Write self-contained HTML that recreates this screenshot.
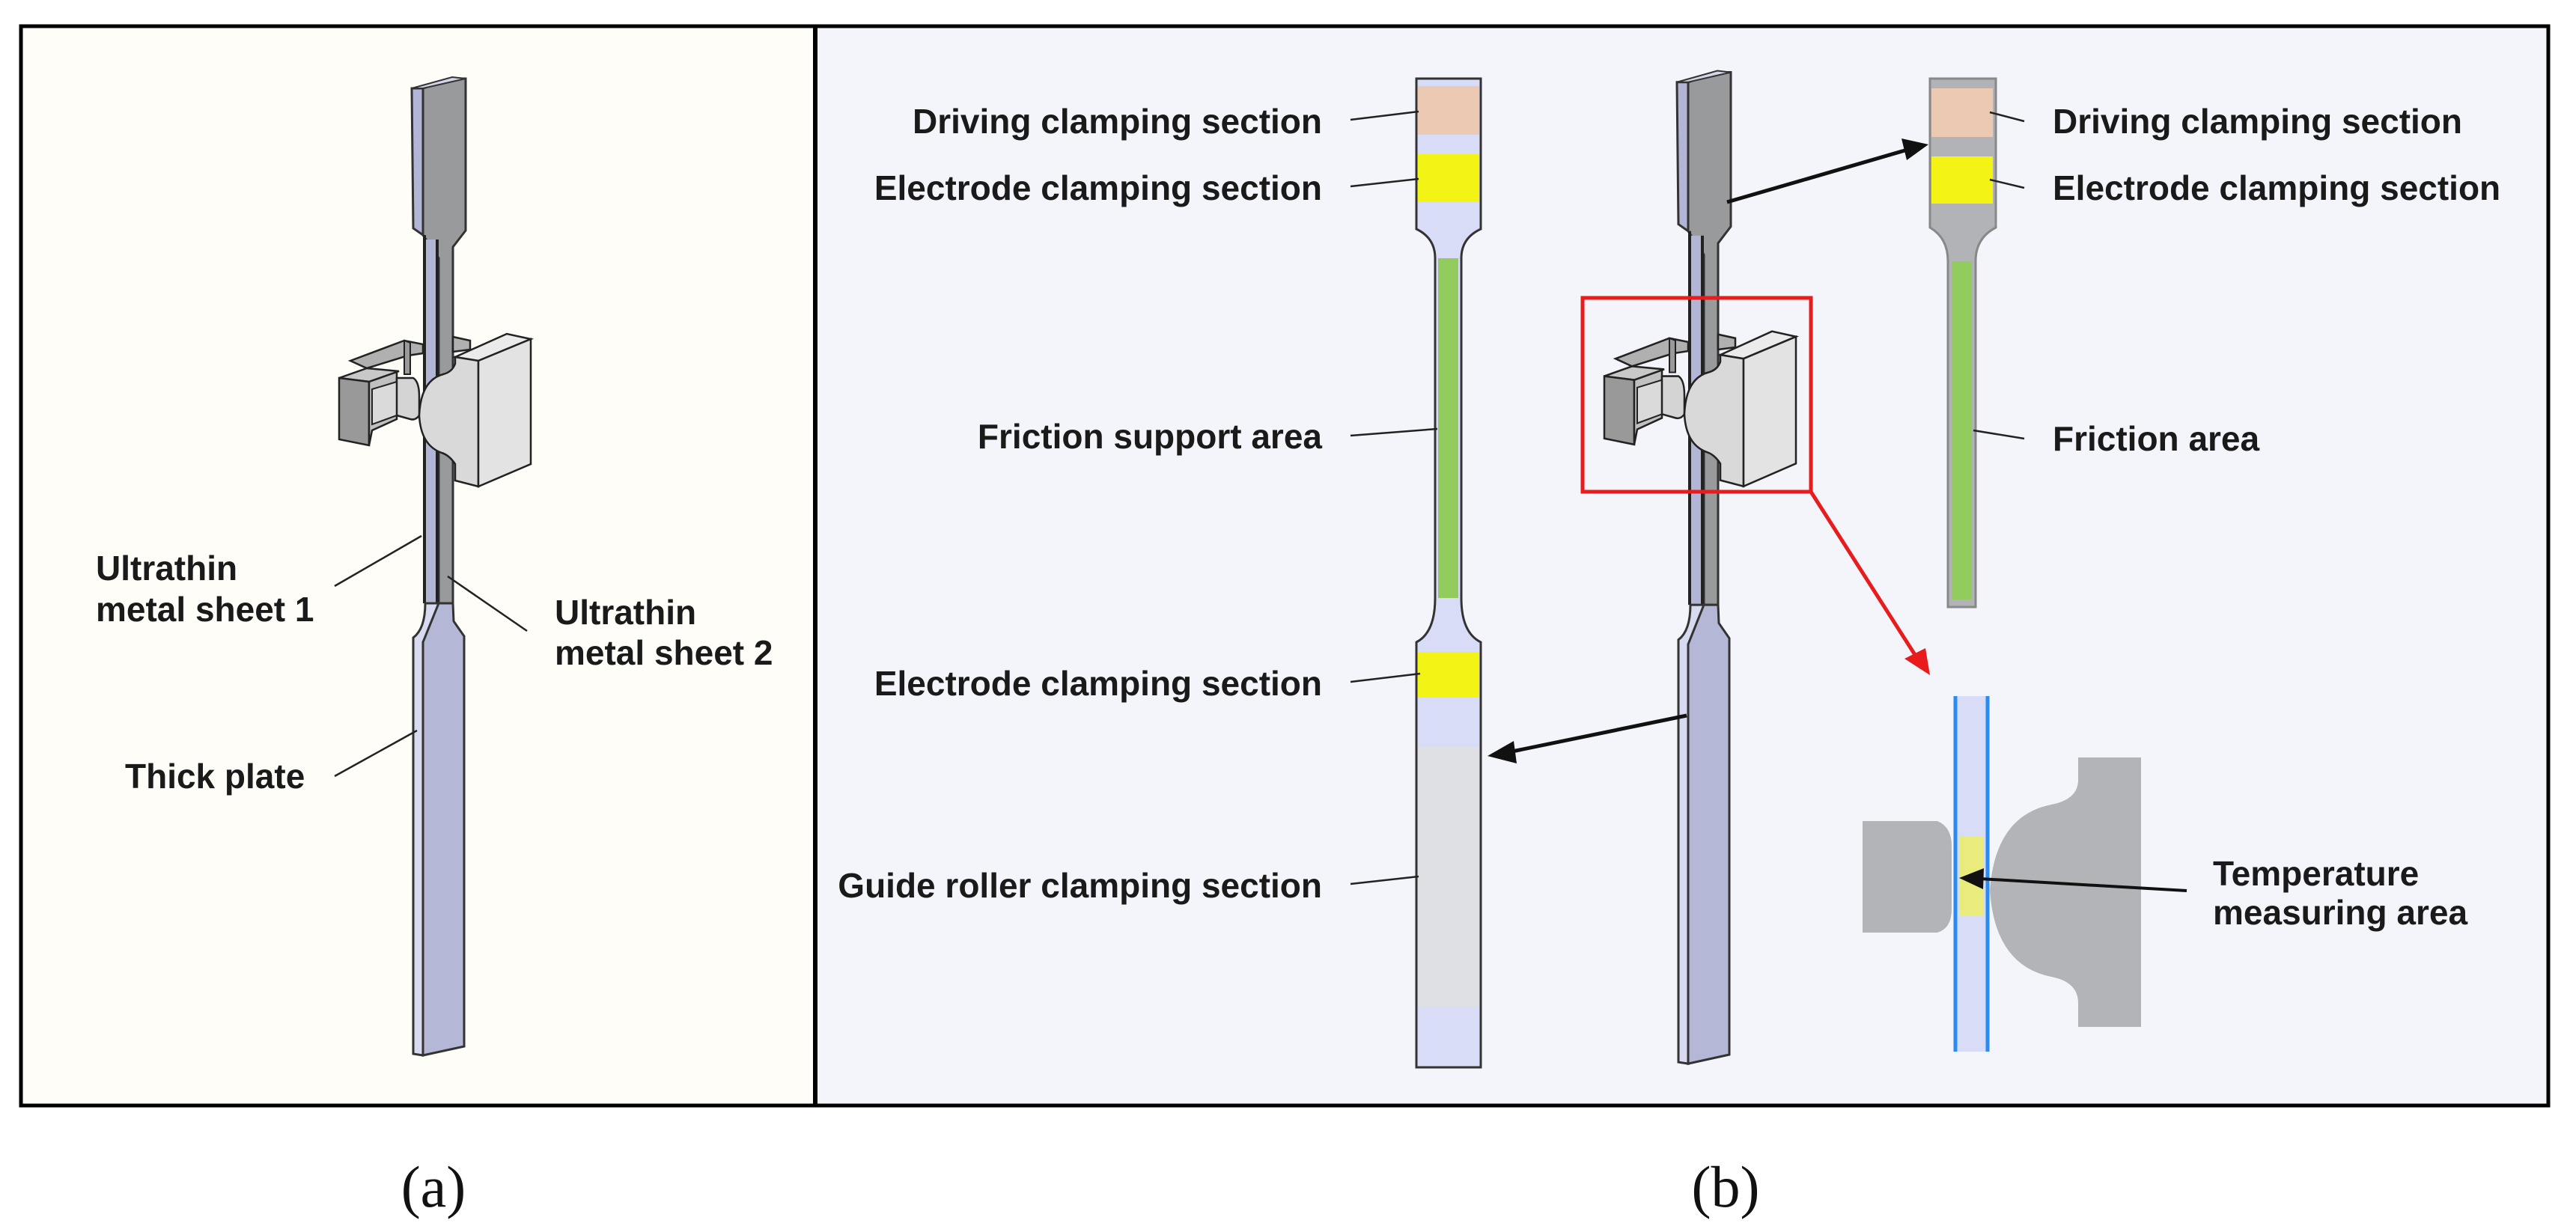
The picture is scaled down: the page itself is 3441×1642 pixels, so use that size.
<!DOCTYPE html>
<html><head><meta charset="utf-8"><style>
html,body{margin:0;padding:0;background:#fff;}
svg{display:block;}
.t{font-family:"Liberation Sans",sans-serif;font-weight:bold;font-size:46px;fill:#1a1a1a;}
.s{font-family:"Liberation Serif",serif;font-size:78px;fill:#111;}
.ld{stroke:#222;stroke-width:2.5;fill:none;}
.o{stroke:#333;stroke-width:3;}
</style></head><body>
<svg width="3441" height="1642" viewBox="0 0 3441 1642" xmlns="http://www.w3.org/2000/svg">
<defs>
<g id="spec">
  <polygon points="550,118 552,305 565,314 565,118" fill="#b3b5d6" class="o"/>
  <polygon points="565,118 565,314 586,345 586,806 605,806 605,330 622,308 622,105 604,105" fill="#999a9c" class="o"/>
  <polygon points="550,118 604,103 622,105 565,118" fill="#d4d5e8" stroke="#333" stroke-width="2"/>
  <rect x="565" y="314" width="4" height="492" fill="#222"/>
  <rect x="569" y="320" width="13" height="486" fill="#b3b5d6"/>
  <rect x="582" y="320" width="4" height="486" fill="#222"/>
  <path d="M568,806 Q568,840 552,852 L552,1408 L565,1410 L565,858 Q582,845 586,806 Z" fill="#d8daf0" class="o"/>
  <polygon points="565,858 586,806 605,806 606,830 620,850 620,1398 565,1410" fill="#b5b7d6" class="o"/>
</g>
<g id="clamp">
  <polygon points="468,482 540,455 565,460 565,472 545,475 490,492" fill="#b0b0b0" stroke="#222" stroke-width="2.5"/>
  <polygon points="540,455 548,458 548,500 540,500" fill="#9a9a9a" stroke="#222" stroke-width="2"/>
  <polygon points="605,450 628,455 628,467 605,470" fill="#b0b0b0" stroke="#222" stroke-width="2.5"/>
  <polygon points="453,505 490,492 533,496 493,510" fill="#c8c8c8" stroke="#222" stroke-width="2.5"/>
  <polygon points="453,505 493,510 493,595 453,587" fill="#999" stroke="#222" stroke-width="2.5"/>
  <polygon points="493,510 530,497 530,560 497,575 493,595" fill="#c0c0c0" stroke="#222" stroke-width="2.5"/>
  <polygon points="497,520 530,510 530,555 497,567" fill="#dadada" stroke="#222" stroke-width="2"/>
  <path d="M530,505 L552,505 Q560,510 560,530 L560,555 Q555,562 548,560 L530,555 Z" fill="#d4d4d4" stroke="#222" stroke-width="2.5"/>
  <polygon points="608,477 677,446 709,453 639,482" fill="#ebebeb" stroke="#222" stroke-width="2.5"/>
  <path d="M608,477 L639,482 L639,650 L608,642 L608,620 Q600,608 590,605 Q562,595 560,555 Q562,508 592,500 Q604,497 608,486 Z" fill="#d9d9d9" stroke="#222" stroke-width="2.5"/>
  <polygon points="639,482 709,453 709,620 639,650" fill="#e3e3e3" stroke="#222" stroke-width="2.5"/>
</g>
</defs>

<rect x="28" y="35" width="1060" height="1442" fill="#fefdf8"/>
<rect x="1091" y="35" width="2313" height="1442" fill="#f3f5fa"/>
<rect x="28" y="35" width="3376" height="1442" fill="none" stroke="#000" stroke-width="5"/>
<line x1="1089" y1="35" x2="1089" y2="1477" stroke="#000" stroke-width="6"/>

<use href="#spec"/>
<use href="#clamp"/>
<line class="ld" x1="447" y1="783" x2="563" y2="716"/>
<line class="ld" x1="704" y1="843" x2="598" y2="770"/>
<line class="ld" x1="447" y1="1037" x2="557" y2="976"/>
<text class="t" x="128" y="775">Ultrathin</text>
<text class="t" x="128" y="830">metal sheet 1</text>
<text class="t" x="741" y="834">Ultrathin</text>
<text class="t" x="741" y="888">metal sheet 2</text>
<text class="t" x="167" y="1053">Thick plate</text>
<text class="s" x="579" y="1612" text-anchor="middle">(a)</text>

<path d="M1892,105 L1978,105 L1978,306 Q1952,318 1952,345 L1952,799 Q1952,845 1978,858 L1978,1426 L1892,1426 L1892,858 Q1917,845 1917,799 L1917,345 Q1917,318 1892,306 Z" fill="#d8dcf6" stroke="#333" stroke-width="3"/>
<rect x="1894" y="115" width="82" height="65" fill="#ecc9b3"/>
<rect x="1894" y="206" width="82" height="63" fill="#f3f315"/>
<rect x="1921" y="345" width="27" height="454" fill="#92cb5e"/>
<rect x="1894" y="871" width="82" height="61" fill="#f3f315"/>
<rect x="1894" y="998" width="82" height="347" fill="#dfe0e4"/>
<g text-anchor="end">
<text class="t" x="1766" y="178">Driving clamping section</text>
<text class="t" x="1766" y="267">Electrode clamping section</text>
<text class="t" x="1766" y="599">Friction support area</text>
<text class="t" x="1766" y="929">Electrode clamping section</text>
<text class="t" x="1766" y="1199">Guide roller clamping section</text>
</g>
<line class="ld" x1="1804" y1="160" x2="1895" y2="149"/>
<line class="ld" x1="1804" y1="249" x2="1895" y2="239"/>
<line class="ld" x1="1804" y1="582" x2="1920" y2="573"/>
<line class="ld" x1="1804" y1="911" x2="1897" y2="900"/>
<line class="ld" x1="1804" y1="1181" x2="1895" y2="1171"/>

<g transform="translate(1690,-10) scale(1,1.015)">
<use href="#spec"/>
<use href="#clamp"/>
</g>
<rect x="2114" y="398" width="305" height="259" fill="none" stroke="#e81c1c" stroke-width="5"/>

<line x1="2253" y1="956" x2="2015" y2="1005" stroke="#111" stroke-width="5"/>
<polygon points="1987,1010 2022,990 2026,1020" fill="#111"/>
<line x1="2307" y1="270" x2="2548" y2="200" stroke="#111" stroke-width="5"/>
<polygon points="2576,193 2547,214 2540,185" fill="#111"/>
<line x1="2419" y1="657" x2="2560" y2="878" stroke="#e81c1c" stroke-width="5"/>
<polygon points="2578,902 2544,880 2572,866" fill="#e81c1c"/>

<path d="M2578,105 L2666,105 L2666,304 Q2639,318 2639,349 L2639,811 L2602,811 L2602,349 Q2602,318 2578,304 Z" fill="#b1b3b7" stroke="#888" stroke-width="3"/>
<rect x="2580" y="118" width="82" height="65" fill="#ecc9b3"/>
<rect x="2580" y="209" width="82" height="63" fill="#f3f315"/>
<rect x="2607" y="349" width="27" height="452" fill="#92cb5e"/>
<text class="t" x="2742" y="178">Driving clamping section</text>
<text class="t" x="2742" y="267">Electrode clamping section</text>
<text class="t" x="2742" y="602">Friction area</text>
<line class="ld" x1="2704" y1="162" x2="2658" y2="150"/>
<line class="ld" x1="2704" y1="251" x2="2658" y2="240"/>
<line class="ld" x1="2704" y1="586" x2="2636" y2="575"/>

<rect x="2612" y="930" width="43" height="475" fill="#d8dcf6"/>
<line x1="2612" y1="930" x2="2612" y2="1405" stroke="#2a8cf0" stroke-width="5"/>
<line x1="2655" y1="930" x2="2655" y2="1405" stroke="#2a8cf0" stroke-width="5"/>
<path d="M2488,1097 L2588,1097 Q2607,1105 2607,1130 L2607,1215 Q2607,1240 2588,1246 L2488,1246 Z" fill="#b2b4b8"/>
<rect x="2617" y="1118" width="32" height="105" fill="#e9ec7c"/>
<path d="M2776,1012 L2860,1012 L2860,1372 L2776,1372 L2776,1340 Q2776,1312 2740,1305 Q2665,1290 2658,1190 Q2665,1090 2740,1075 Q2776,1068 2776,1042 Z" fill="#b2b4b8"/>
<line x1="2921" y1="1190" x2="2645" y2="1174" stroke="#111" stroke-width="4"/>
<polygon points="2617,1173 2650,1160 2649,1188" fill="#111"/>
<text class="t" x="2956" y="1183">Temperature</text>
<text class="t" x="2956" y="1235">measuring area</text>
<text class="s" x="2305" y="1612" text-anchor="middle">(b)</text>
</svg>
</body></html>
